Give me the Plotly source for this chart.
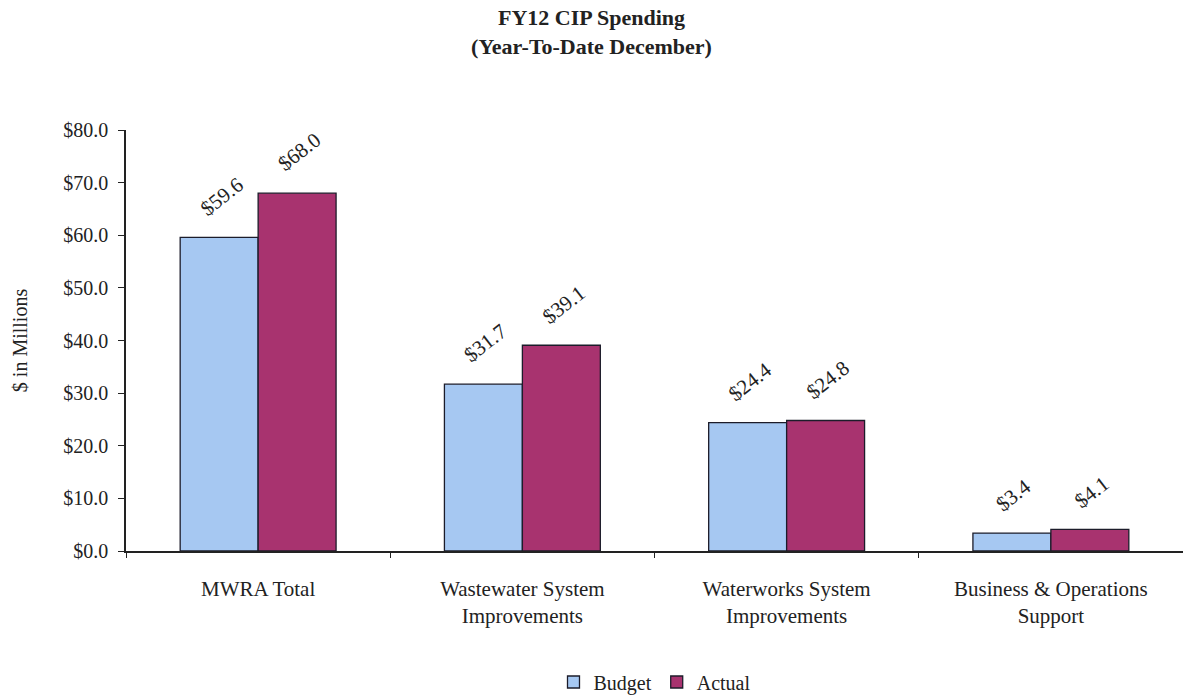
import plotly.graph_objects as go

categories = ["MWRA Total", "Wastewater System<br>Improvements",
              "Waterworks System<br>Improvements", "Business & Operations<br>Support"]
budget = [59.6, 31.7, 24.4, 3.4]
actual = [68.0, 39.1, 24.8, 4.1]
y_ticks = [0, 10, 20, 30, 40, 50, 60, 70, 80]
y_tick_labels = [f"${v:.1f}" for v in y_ticks]

FONT = "Liberation Serif, Times New Roman, serif"
W, H = 1183, 695
M_L, M_R, M_T, M_B = 126, 0, 130, 144
BARGAP = 0.41

fig = go.Figure()
fig.add_bar(name="Budget", x=categories, y=budget,
            marker=dict(color="#A6C8F2", line=dict(color="#1c1c2a", width=1.3)))
fig.add_bar(name="Actual", x=categories, y=actual,
            marker=dict(color="#A8336F", line=dict(color="#1c1c2a", width=1.3)))

# value labels, rotated, above each bar
cat_px = (W - M_L - M_R) / len(categories)
half_bar = cat_px * (1 - BARGAP) / 4
for series, shift in ((budget, -half_bar), (actual, half_bar)):
    for c, v in zip(categories, series):
        fig.add_annotation(x=c, y=v, text=f"${v:.1f}", showarrow=False,
                           textangle=-38, xshift=shift + 2, yshift=14,
                           yanchor="bottom", xanchor="center",
                           font=dict(family=FONT, size=21, color="#222"))

fig.update_layout(
    width=W, height=H,
    margin=dict(l=M_L, r=M_R, t=M_T, b=M_B, autoexpand=False),
    paper_bgcolor="white", plot_bgcolor="white",
    barmode="group", bargap=BARGAP, bargroupgap=0,
    font=dict(family=FONT, size=20, color="#222"),
    title=dict(text="<b>FY12 CIP Spending<br>(Year-To-Date December)</b>",
               x=0.5, xref="container", xanchor="center",
               y=1 - 25 / H, yref="container", yanchor="middle",
               font=dict(family=FONT, size=22, color="#222")),
    legend=dict(orientation="h", x=0.5, xanchor="center",
                yref="container", y=1 - 682 / H, yanchor="middle",
                font=dict(family=FONT, size=20, color="#222"),
                itemwidth=30, traceorder="normal"),
    showlegend=True,
)
fig.update_yaxes(range=[0, 80], tickvals=y_ticks, ticktext=y_tick_labels,
                 showgrid=False, zeroline=False, showline=True,
                 linecolor="#222", linewidth=1.5, ticks="outside",
                 ticklen=6, tickcolor="#222", tickfont=dict(size=20),
                 ticklabelstandoff=6, automargin=False,
                 title=dict(text="$ in Millions", font=dict(size=20), standoff=30))
fig.update_xaxes(showgrid=False, showline=True, linecolor="#222", linewidth=1.5,
                 ticks="outside", tickson="boundaries", ticklen=5,
                 tickcolor="#222", tickfont=dict(size=21), ticklabelstandoff=18,
                 automargin=False)

fig.write_html("out.html")
